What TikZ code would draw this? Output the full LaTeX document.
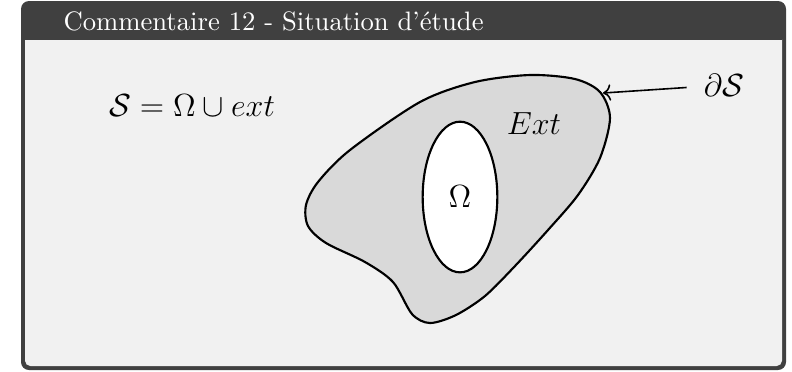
\documentclass[tikz,border=0pt]{standalone}
\usepackage{fontspec}
\usepackage{amsmath,amssymb}
\usetikzlibrary{positioning, arrows.meta, shapes.geometric}
\definecolor{titrefond}{gray}{0.25}
\definecolor{corpsfond}{gray}{0.945}
\definecolor{extfond}{gray}{0.85}
\tikzset{
  cadre/.style={fill=titrefond, rounded corners=3pt},
  corps/.style={fill=corpsfond, rounded corners=2pt},
  domaine/.style={draw, thick, fill=extfond},
  trou/.style={draw, thick, fill=white, ellipse, inner sep=0pt},
  etiq/.style={font=\large},
  >=To,
}

\begin{document}
\begin{tikzpicture}[x=0.375pt, y=-0.375pt]
    \useasboundingbox (0,0) rectangle (792,371);
    % cadre
    \fill[cadre] (21,1) rectangle (786,370);
    \fill[corps] (25,34) rectangle (782,366);
    \fill[titrefond] (25,30) rectangle (782,40);
    \node[anchor=base west, text=white, inner sep=0pt] (titre) at (63,30) {Commentaire 12 - Situation d'étude};
    % domaine S
    \draw[domaine] plot[smooth cycle] coordinates {
      (530,75) (575,79) (600,92) (610,118) (600,158) (578,195) (548,230)
      (515,266) (485,296) (456,315) (430,323) (412,314) (393,282) (365,262)
      (326,243) (308,226) (306,205) (318,182) (350,150) (420,102) (475,82)};
    \coordinate (bord) at (603,93);
    \node[trou, minimum width=28pt, minimum height=56.5pt] (omega) at (460,197) {\large$\Omega$};
    \node[etiq] (ext) at (534,124) {$Ext$};
    \node[etiq] (def) at (192,106) {$\mathcal{S} = \Omega \cup ext$};
    \node[etiq] (dS) at (724,85) {$\partial\mathcal{S}$};
    \draw[->, semithick, shorten <=3pt] (dS) -- (bord);
\end{tikzpicture}
\end{document}
